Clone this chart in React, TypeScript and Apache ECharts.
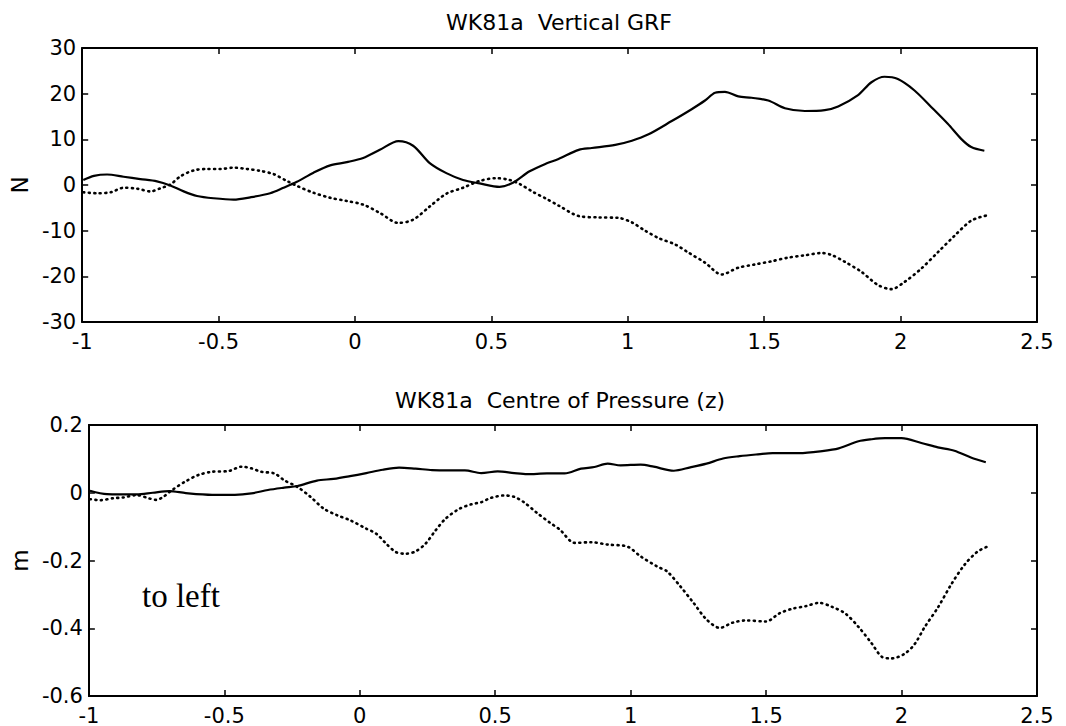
import React, { useEffect, useRef } from "react";
import * as echarts from "echarts";

// ---- Top panel: WK81a Vertical GRF (N) ----
const grfSolidX = [-0.996, -0.957, -0.909, -0.848, -0.787, -0.726, -0.677, -0.628, -0.579, -0.518, -0.445, -0.384, -0.311, -0.262, -0.213, -0.152, -0.091, -0.03, 0.03, 0.091, 0.159, 0.213, 0.274, 0.335, 0.396, 0.457, 0.53, 0.579, 0.64, 0.701, 0.746, 0.82, 0.868, 0.954, 1.015, 1.076, 1.161, 1.234, 1.283, 1.32, 1.356, 1.405, 1.454, 1.515, 1.576, 1.649, 1.722, 1.771, 1.844, 1.893, 1.941, 1.99, 2.051, 2.112, 2.173, 2.222, 2.259, 2.307];
const grfSolidY = [1.1, 2.0, 2.3, 1.8, 1.3, 0.8, -0.1, -1.4, -2.4, -2.9, -3.2, -2.7, -1.8, -0.6, 0.7, 2.7, 4.3, 5.0, 5.9, 7.7, 9.6, 8.6, 4.8, 2.6, 1.1, 0.35, -0.4, 0.5, 3.0, 4.7, 5.7, 7.7, 8.1, 8.8, 9.7, 11.1, 14.0, 16.6, 18.5, 20.2, 20.4, 19.4, 19.1, 18.5, 16.8, 16.2, 16.4, 17.2, 19.7, 22.5, 23.7, 23.2, 20.7, 17.1, 13.4, 10.1, 8.3, 7.5];

const grfDotX = [-0.996, -0.945, -0.896, -0.848, -0.799, -0.75, -0.713, -0.677, -0.64, -0.591, -0.543, -0.494, -0.445, -0.396, -0.348, -0.299, -0.25, -0.213, -0.152, -0.091, -0.03, 0.03, 0.091, 0.159, 0.213, 0.274, 0.335, 0.396, 0.457, 0.518, 0.567, 0.604, 0.652, 0.701, 0.746, 0.82, 0.893, 0.966, 1.015, 1.063, 1.112, 1.173, 1.222, 1.283, 1.344, 1.405, 1.466, 1.527, 1.588, 1.649, 1.71, 1.746, 1.795, 1.856, 1.917, 1.966, 2.015, 2.076, 2.137, 2.198, 2.259, 2.313];
const grfDotY = [-1.6, -1.8, -1.6, -0.6, -0.8, -1.4, -0.7, 0.1, 1.9, 3.2, 3.5, 3.5, 3.8, 3.5, 3.1, 2.4, 0.9, -0.2, -1.7, -2.8, -3.5, -4.3, -6.1, -8.3, -7.6, -4.7, -1.9, -0.6, 0.9, 1.5, 1.1, 0.2, -1.5, -3.0, -4.5, -6.8, -7.1, -7.2, -8.2, -10.0, -11.6, -13.0, -14.8, -17.0, -19.6, -18.1, -17.4, -16.7, -15.9, -15.4, -14.9, -15.3, -16.8, -19.0, -21.9, -22.8, -21.2, -18.3, -14.7, -11.1, -7.8, -6.7];

// ---- Bottom panel: WK81a Centre of Pressure (z) (m) ----
const copSolidX = [-0.996, -0.933, -0.824, -0.764, -0.703, -0.642, -0.545, -0.461, -0.4, -0.339, -0.279, -0.23, -0.158, -0.097, -0.036, 0.024, 0.085, 0.145, 0.206, 0.267, 0.327, 0.388, 0.448, 0.509, 0.57, 0.618, 0.691, 0.756, 0.817, 0.866, 0.915, 0.963, 1.037, 1.085, 1.159, 1.22, 1.28, 1.341, 1.402, 1.463, 1.524, 1.622, 1.707, 1.768, 1.841, 1.89, 1.939, 2.0, 2.073, 2.134, 2.195, 2.256, 2.311];
const copSolidY = [0.006, -0.004, -0.005, 0.0, 0.005, -0.001, -0.006, -0.006, -0.002, 0.008, 0.015, 0.02, 0.036, 0.041, 0.049, 0.058, 0.068, 0.074, 0.071, 0.067, 0.066, 0.066, 0.058, 0.063, 0.058, 0.055, 0.057, 0.057, 0.071, 0.076, 0.086, 0.081, 0.083, 0.077, 0.065, 0.075, 0.086, 0.101, 0.108, 0.113, 0.117, 0.117, 0.123, 0.131, 0.152, 0.158, 0.161, 0.161, 0.147, 0.134, 0.124, 0.104, 0.09];

const copDotX = [-0.996, -0.958, -0.909, -0.873, -0.824, -0.776, -0.752, -0.727, -0.691, -0.642, -0.594, -0.545, -0.485, -0.436, -0.4, -0.364, -0.315, -0.279, -0.23, -0.182, -0.133, -0.085, -0.036, 0.024, 0.061, 0.097, 0.133, 0.17, 0.206, 0.242, 0.279, 0.315, 0.364, 0.412, 0.448, 0.485, 0.533, 0.57, 0.606, 0.655, 0.703, 0.739, 0.793, 0.854, 0.915, 0.988, 1.037, 1.098, 1.134, 1.183, 1.232, 1.28, 1.329, 1.378, 1.427, 1.5, 1.549, 1.598, 1.646, 1.695, 1.744, 1.793, 1.841, 1.89, 1.927, 1.963, 2.012, 2.049, 2.085, 2.134, 2.183, 2.232, 2.28, 2.317];
const copDotY = [-0.019, -0.022, -0.016, -0.014, -0.007, -0.017, -0.021, -0.013, 0.009, 0.034, 0.053, 0.062, 0.064, 0.077, 0.072, 0.062, 0.057, 0.037, 0.017, -0.012, -0.047, -0.066, -0.081, -0.106, -0.121, -0.15, -0.175, -0.18, -0.173, -0.151, -0.112, -0.078, -0.049, -0.034, -0.028, -0.015, -0.008, -0.012, -0.028, -0.06, -0.089, -0.109, -0.148, -0.146, -0.153, -0.159, -0.188, -0.218, -0.232, -0.276, -0.325, -0.374, -0.399, -0.383, -0.377, -0.38, -0.356, -0.342, -0.335, -0.325, -0.337, -0.357, -0.396, -0.445, -0.484, -0.489, -0.475, -0.446, -0.397, -0.339, -0.271, -0.213, -0.174, -0.159];

const titles = ["WK81a  Vertical GRF", "WK81a  Centre of Pressure (z)"];
const yNames = ["N", "m"];
const annotation = "to left";

const FONT = "DejaVu Sans";

const zip = (xs: number[], ys: number[]) => xs.map((x, i) => [x, ys[i]]);

function xAxisDef(grid: number, pos: "bottom" | "top") {
  return {
    type: "value",
    gridIndex: grid,
    position: pos,
    min: -1,
    max: 2.5,
    interval: 0.5,
    axisLine: { show: true, onZero: false, lineStyle: { color: "#000", width: 2 } },
    axisTick: { show: true, inside: true, length: 6, lineStyle: { color: "#000", width: 1.5 } },
    axisLabel: { show: pos === "bottom", color: "#000", fontSize: 21, fontFamily: FONT, margin: 9 },
    splitLine: { show: false },
  };
}

function yAxisDef(grid: number, pos: "left" | "right", min: number, max: number, interval: number, name: string, gap: number) {
  return {
    type: "value",
    gridIndex: grid,
    position: pos,
    min,
    max,
    interval,
    name: pos === "left" ? name : "",
    nameLocation: "middle",
    nameRotate: 90,
    nameGap: gap,
    nameTextStyle: { color: "#000", fontSize: 23, fontFamily: FONT },
    axisLine: { show: true, onZero: false, lineStyle: { color: "#000", width: 2 } },
    axisTick: { show: true, inside: true, length: 6, lineStyle: { color: "#000", width: 1.5 } },
    axisLabel: { show: pos === "left", color: "#000", fontSize: 21, fontFamily: FONT, margin: 6 },
    splitLine: { show: false },
  };
}

export default function App() {
  const ref = useRef<HTMLDivElement>(null);
  useEffect(() => {
    if (!ref.current) return;
    const chart = echarts.init(ref.current, undefined, { renderer: "svg" });
    const solid = { color: "#000", width: 2.2 };
    const dotted = { color: "#000", width: 2.6, type: [1, 4.5], cap: "round" };
    chart.setOption({
      animation: false,
      backgroundColor: "#fff",
      title: [
        {
          text: titles[0], left: 559, top: 11, textAlign: "center", padding: 0,
          textStyle: { fontFamily: FONT, fontSize: 22, fontWeight: "normal", color: "#000" },
        },
        {
          text: titles[1], left: 560, top: 389, textAlign: "center", padding: 0,
          textStyle: { fontFamily: FONT, fontSize: 22, fontWeight: "normal", color: "#000" },
        },
      ],
      grid: [
        { left: 82, top: 48, width: 955, height: 274, containLabel: false },
        { left: 84, top: 425, width: 953, height: 271, containLabel: false },
      ],
      xAxis: [xAxisDef(0, "bottom"), xAxisDef(0, "top"), xAxisDef(1, "bottom"), xAxisDef(1, "top")],
      yAxis: [
        yAxisDef(0, "left", -30, 30, 10, yNames[0], 45),
        yAxisDef(0, "right", -30, 30, 10, "", 0),
        yAxisDef(1, "left", -0.6, 0.2, 0.2, yNames[1], 52),
        yAxisDef(1, "right", -0.6, 0.2, 0.2, "", 0),
      ],
      series: [
        { type: "line", xAxisIndex: 0, yAxisIndex: 0, data: zip(grfSolidX, grfSolidY), showSymbol: false, smooth: 0.3, lineStyle: solid },
        { type: "line", xAxisIndex: 0, yAxisIndex: 0, data: zip(grfDotX, grfDotY), showSymbol: false, smooth: 0.3, lineStyle: dotted },
        { type: "line", xAxisIndex: 2, yAxisIndex: 2, data: zip(copSolidX, copSolidY), showSymbol: false, smooth: 0.3, lineStyle: solid },
        { type: "line", xAxisIndex: 2, yAxisIndex: 2, data: zip(copDotX, copDotY), showSymbol: false, smooth: 0.3, lineStyle: dotted },
      ],
      graphic: [
        {
          type: "text", x: 142, y: 596,
          style: { text: annotation, fontFamily: "Liberation Serif", fontSize: 33, fill: "#000", verticalAlign: "middle", align: "left" },
        },
      ],
    });
    return () => chart.dispose();
  }, []);
  return <div ref={ref} style={{ position: "absolute", left: 0, top: 0, width: 1066, height: 726 }} />;
}
